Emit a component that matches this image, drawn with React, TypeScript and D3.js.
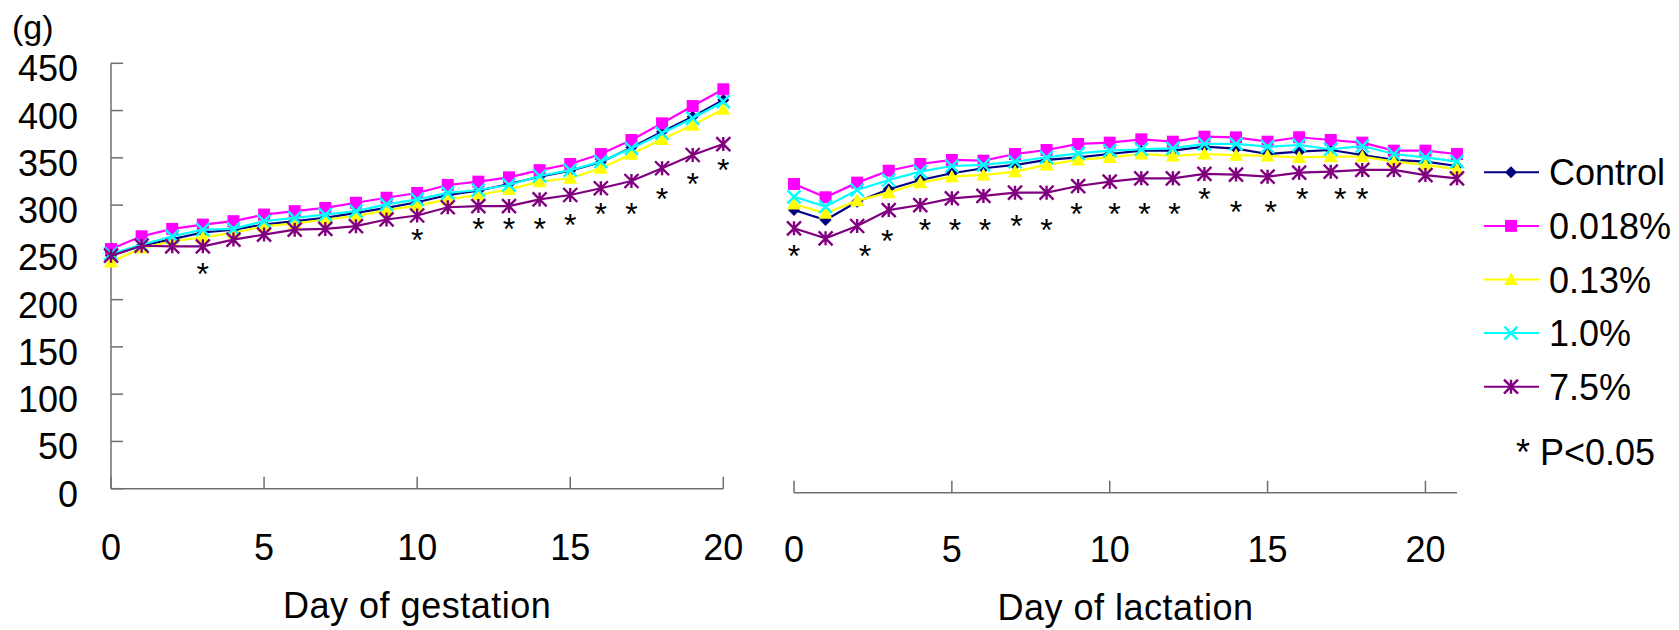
import React from "react";
import * as d3 from "d3";

const gestDays = d3.range(0, 21);
const lactDays = d3.range(0, 22);

const seriesNames = ["Control", "0.018%", "0.13%", "1.0%", "7.5%"];
const seriesColors = ["#000080", "#FF00FF", "#FFFF00", "#00FFFF", "#800080"];
const seriesMarkers = ["diamond", "square", "triangle", "x", "asterisk"];

const gestControl = [246.5, 257, 264, 271, 274, 279.4, 283, 286.5, 291.8, 297, 303, 310.7, 315.2, 322.3, 330, 336.4, 345.3, 361, 377.7, 393.5, 411.2];
const gest0018 = [253.5, 267, 274.8, 279.4, 283, 290, 293.6, 297, 302.5, 307.8, 312.8, 321.3, 324.8, 329.4, 337, 343.5, 354, 368.9, 386.5, 404.8, 422.5];
const gest013 = [240, 254.6, 261.7, 266, 270.6, 277.7, 280.5, 284.8, 288.3, 294.7, 299.5, 306, 310.7, 316.7, 324.8, 328.4, 339, 354, 369.6, 384.7, 401.4];
const gest10 = [248.6, 258, 267, 274, 274.8, 283, 286.5, 290, 293.6, 300.7, 306, 313, 316, 321.3, 330.8, 337, 346, 360, 376, 391.8, 409.4];
const gest75 = [246.5, 257, 256.4, 256.4, 263.5, 268.8, 274, 274.8, 277.7, 284.8, 289, 297.7, 299, 299, 306, 310.7, 317.8, 325.5, 339, 353, 364.6];

const lactControl = [299, 288.5, 307.8, 321, 330.8, 337.9, 343.2, 346.7, 352, 354.8, 358.3, 361.8, 361.8, 366, 364, 358.3, 360.7, 362.5, 357.2, 352, 350.2, 345.6];
const lact0018 = [326.6, 312.5, 328, 340.6, 347.7, 352, 351.2, 358.3, 362.5, 368.9, 370.3, 373.8, 371.3, 376.6, 375.9, 371.3, 376, 373.1, 370.3, 361.8, 361.8, 358.3];
const lact013 = [305.4, 295.6, 309, 317.4, 328, 334.3, 336.1, 339.6, 346.7, 352, 354.8, 358.3, 356.2, 358.3, 357, 356.2, 354.8, 355.5, 355.5, 350.2, 346.7, 342.1];
const lact10 = [313, 302.6, 320.2, 330.8, 339.6, 345.6, 346.7, 350.2, 354.8, 359, 361.8, 363.3, 364.3, 368.9, 368.9, 366, 367.8, 363.3, 366.7, 358.3, 354.8, 350.2];
const lact75 = [279.7, 269.1, 282.1, 299, 304.3, 311.4, 313.9, 317.4, 317.4, 324.4, 329, 332.6, 332.6, 337.2, 336.5, 334.3, 338.5, 339.6, 341.4, 341.4, 336, 332.6];

const gestStarDays = [3, 10, 12, 13, 14, 15, 16, 17, 18, 19, 20];
const gestStarVals = [234.8, 270, 282.4, 282.4, 282.4, 286, 298.3, 298.3, 314.2, 330, 344.9];
const lactStarDays = [0, 2.25, 2.95, 4.15, 5.1, 6.05, 7.05, 8, 8.95, 10.15, 11.1, 12.05, 13, 14, 15.1, 16.1, 17.3, 18];
const lactStarVals = [257.5, 257.5, 273.7, 285.6, 285.6, 285.6, 289, 285.6, 302.6, 302.6, 302.6, 302.6, 318.4, 304, 304, 318.4, 318.4, 318.4];

const yTicks = d3.range(0, 451, 50);
const xTicks = [0, 5, 10, 15, 20];

const gestSeries = [gestControl, gest0018, gest013, gest10, gest75];
const lactSeries = [lactControl, lact0018, lact013, lact10, lact75];

const FONT = "'Liberation Sans', Arial, sans-serif";

function markerPath(type: string, s: number): string {
  const h = s / 2;
  switch (type) {
    case "diamond":
      return `M0,${-h}L${h},0L0,${h}L${-h},0Z`;
    case "square":
      return `M${-h},${-h}H${h}V${h}H${-h}Z`;
    case "triangle":
      return `M0,${-h}L${h},${h * 0.8}L${-h},${h * 0.8}Z`;
    case "x":
      return `M${-h},${-h}L${h},${h}M${h},${-h}L${-h},${h}`;
    case "asterisk":
      return `M${-h},${-h}L${h},${h}M${h},${-h}L${-h},${h}M0,${-h}V${h}`;
  }
  return "";
}

const markerSize: Record<string, number> = { diamond: 12, square: 12, triangle: 14, x: 13, asterisk: 14 };

function Marker({ type, color, x, y }: { type: string; color: string; x: number; y: number }) {
  const s = markerSize[type];
  const isStroke = type === "x" || type === "asterisk";
  return (
    <path
      d={markerPath(type, s)}
      transform={`translate(${x},${y})`}
      fill={isStroke ? "none" : color}
      stroke={color}
      strokeWidth={isStroke ? 2.4 : 0}
    />
  );
}

function Panel({ days, series, xs, ys, starDays, starVals }: any) {
  const line = d3
    .line<number>()
    .x((_, i) => xs(days[i]))
    .y((d) => ys(d));
  return (
    <g>
      {series.map((vals: number[], si: number) => (
        <g key={si}>
          <path d={line(vals) || ""} fill="none" stroke={seriesColors[si]} strokeWidth={2.2} />
          {vals.map((v, i) => (
            <Marker key={i} type={seriesMarkers[si]} color={seriesColors[si]} x={xs(days[i])} y={ys(v)} />
          ))}
        </g>
      ))}
      {starDays.map((d: number, i: number) => (
        <text
          key={i}
          x={xs(d)}
          y={ys(starVals[i]) + 18}
          textAnchor="middle"
          fontSize={32}
          fontFamily={FONT}
          fill="#000"
        >
          *
        </text>
      ))}
    </g>
  );
}

export default function App() {
  const W = 1679;
  const H = 630;
  const xL = d3.scaleLinear().domain([0, 20]).range([111, 723.3]);
  const yL = d3.scaleLinear().domain([0, 450]).range([488.7, 63.3]);
  const xR = d3.scaleLinear().domain([0, 21]).range([794, 1457]);
  const yR = d3.scaleLinear().domain([0, 450]).range([492.7, 67.3]);
  const axisColor = "#6e6e6e";
  const tickLen = 12;

  const legendY = d3.scaleLinear().domain([0, 4]).range([172.3, 386.7]);

  return (
    <svg
      width={W}
      height={H}
      style={{ position: "absolute", left: 0, top: 0, background: "#fff" }}
      fontFamily={FONT}
    >
      <rect width={W} height={H} fill="#fff" />
      <text x={12} y={39} fontSize={34} fill="#000">(g)</text>

      <line x1={xL(0)} x2={xL(0)} y1={yL(450)} y2={yL(0)} stroke={axisColor} strokeWidth={1.5} />
      {yTicks.map((t) => (
        <g key={t}>
          <line x1={xL(0)} x2={xL(0) + tickLen} y1={yL(t)} y2={yL(t)} stroke={axisColor} strokeWidth={1.5} />
          <text x={78} y={yL(t) + 18} textAnchor="end" fontSize={36} fill="#000">
            {t}
          </text>
        </g>
      ))}
      <line x1={xL(0)} x2={xL(20)} y1={yL(0)} y2={yL(0)} stroke={axisColor} strokeWidth={1.5} />
      {xTicks.map((t) => (
        <g key={t}>
          <line x1={xL(t)} x2={xL(t)} y1={yL(0)} y2={yL(0) - tickLen} stroke={axisColor} strokeWidth={1.5} />
          <text x={xL(t)} y={yL(0) + 71} textAnchor="middle" fontSize={36} fill="#000">
            {t}
          </text>
        </g>
      ))}
      <text x={(xL(0) + xL(20)) / 2} y={618} textAnchor="middle" fontSize={36} letterSpacing={0.5} fill="#000">
        Day of gestation
      </text>

      <line x1={xR(0)} x2={xR(21)} y1={yR(0)} y2={yR(0)} stroke={axisColor} strokeWidth={1.5} />
      {xTicks.map((t) => (
        <g key={t}>
          <line x1={xR(t)} x2={xR(t)} y1={yR(0)} y2={yR(0) - tickLen} stroke={axisColor} strokeWidth={1.5} />
          <text x={xR(t)} y={yR(0) + 69} textAnchor="middle" fontSize={36} fill="#000">
            {t}
          </text>
        </g>
      ))}
      <text x={(xR(0) + xR(21)) / 2} y={620} textAnchor="middle" fontSize={36} letterSpacing={0.5} fill="#000">
        Day of lactation
      </text>

      <Panel days={gestDays} series={gestSeries} xs={xL} ys={yL} starDays={gestStarDays} starVals={gestStarVals} />
      <Panel days={lactDays} series={lactSeries} xs={xR} ys={yR} starDays={lactStarDays} starVals={lactStarVals} />

      {seriesNames.map((name, i) => (
        <g key={name}>
          <line x1={1484} x2={1539} y1={legendY(i)} y2={legendY(i)} stroke={seriesColors[i]} strokeWidth={2} />
          <Marker type={seriesMarkers[i]} color={seriesColors[i]} x={1511} y={legendY(i)} />
          <text x={1549} y={legendY(i) + 13} fontSize={36} fill="#000">
            {name}
          </text>
        </g>
      ))}
      <text x={1516} y={465} fontSize={36} fill="#000">
        * P&lt;0.05
      </text>
    </svg>
  );
}
